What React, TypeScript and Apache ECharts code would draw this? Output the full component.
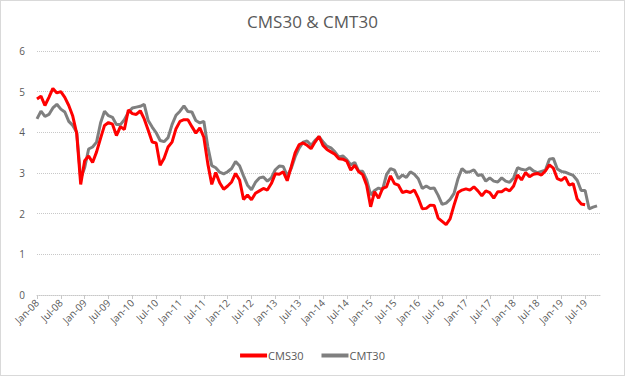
import React, { useEffect, useRef } from "react";
import * as echarts from "echarts";

const monthNames = ["Jan", "Feb", "Mar", "Apr", "May", "Jun", "Jul", "Aug", "Sep", "Oct", "Nov", "Dec"];
const years = ["08", "09", "10", "11", "12", "13", "14", "15", "16", "17", "18", "19"];
const categories: string[] = [];
years.forEach((y) => monthNames.forEach((m) => categories.push(m + "-" + y)));
categories.splice(143); // Jan-08 .. Nov-19

const cmt30 = [
  4.33, 4.52, 4.39, 4.44, 4.60, 4.69, 4.57, 4.50, 4.27, 4.17, 4.00, 2.87,
  3.13, 3.59, 3.64, 3.76, 4.23, 4.52, 4.41, 4.37, 4.19, 4.19, 4.31, 4.49,
  4.60, 4.62, 4.64, 4.69, 4.29, 4.13, 3.99, 3.80, 3.77, 3.87, 4.19, 4.42,
  4.52, 4.65, 4.51, 4.50, 4.29, 4.23, 4.27, 3.65, 3.18, 3.13, 3.02, 2.98,
  3.03, 3.11, 3.28, 3.18, 2.93, 2.70, 2.59, 2.77, 2.88, 2.90, 2.80, 2.88,
  3.08, 3.17, 3.16, 2.93, 3.11, 3.40, 3.61, 3.76, 3.79, 3.68, 3.80, 3.89,
  3.77, 3.66, 3.62, 3.52, 3.39, 3.42, 3.33, 3.20, 3.26, 3.04, 3.04, 2.83,
  2.46, 2.57, 2.63, 2.59, 2.96, 3.11, 3.07, 2.86, 2.95, 2.89, 3.03, 2.97,
  2.86, 2.62, 2.68, 2.62, 2.63, 2.45, 2.23, 2.26, 2.35, 2.50, 2.86, 3.11,
  3.02, 3.03, 3.08, 2.94, 2.96, 2.80, 2.88, 2.80, 2.78, 2.88, 2.80, 2.77,
  2.88, 3.13, 3.09, 3.07, 3.13, 3.05, 3.01, 3.04, 3.07, 3.34, 3.36, 3.10,
  3.04, 3.02, 2.98, 2.94, 2.82, 2.57, 2.57, 2.12, 2.16, 2.19,
];

const cms30 = [
  4.82, 4.89, 4.66, 4.86, 5.08, 4.97, 5.00, 4.86, 4.66, 4.40, 3.97, 2.72,
  3.30, 3.42, 3.26, 3.52, 3.85, 4.17, 4.24, 4.20, 3.92, 4.14, 4.07, 4.55,
  4.46, 4.44, 4.53, 4.33, 4.05, 3.76, 3.74, 3.19, 3.36, 3.64, 3.76, 4.09,
  4.27, 4.31, 4.31, 4.14, 3.98, 4.11, 3.88, 3.23, 2.72, 3.01, 2.76, 2.60,
  2.68, 2.78, 2.99, 2.83, 2.35, 2.46, 2.34, 2.50, 2.56, 2.62, 2.58, 2.74,
  2.98, 2.97, 3.03, 2.81, 3.15, 3.50, 3.70, 3.74, 3.68, 3.60, 3.76, 3.90,
  3.68, 3.58, 3.52, 3.46, 3.35, 3.34, 3.29, 3.07, 3.19, 3.03, 2.96, 2.70,
  2.17, 2.54, 2.38, 2.62, 2.66, 2.93, 2.74, 2.70, 2.52, 2.55, 2.52, 2.58,
  2.38, 2.12, 2.13, 2.21, 2.20, 1.89, 1.81, 1.73, 1.87, 2.21, 2.52, 2.58,
  2.61, 2.58, 2.66, 2.56, 2.44, 2.56, 2.52, 2.38, 2.54, 2.54, 2.61, 2.56,
  2.68, 2.95, 2.83, 3.01, 2.91, 2.97, 2.99, 2.95, 3.05, 3.20, 3.12, 2.86,
  2.82, 2.90, 2.70, 2.74, 2.36, 2.24, 2.22,
];

const FONT = "'Open Sans', 'Noto Sans', sans-serif";
const TXT = "#595959";

export default function App() {
  const ref = useRef<HTMLDivElement>(null);
  useEffect(() => {
    if (!ref.current) return;
    const chart = echarts.init(ref.current, undefined, { renderer: "svg" });
    chart.setOption({
      animation: false,
      backgroundColor: "#ffffff",
      title: {
        text: "CMS30 & CMT30",
        left: "center",
        top: 7,
        textStyle: { fontFamily: FONT, fontSize: 17, fontWeight: "normal", color: TXT },
      },
      legend: {
        bottom: 9,
        left: "center",
        itemGap: 18,
        itemWidth: 27,
        itemHeight: 4,
        icon: "rect",
        textStyle: { fontFamily: FONT, fontSize: 11, color: TXT, padding: [0, 0, 0, -4] },
        data: ["CMS30", "CMT30"],
      },
      grid: { left: 36, right: 23, top: 50, bottom: 80, containLabel: false },
      xAxis: {
        type: "category",
        data: categories,
        boundaryGap: false,
        axisLine: { lineStyle: { color: "#c8c8c8", type: "dotted" } },
        axisTick: { show: true, interval: 5, length: 4, lineStyle: { color: "#c8c8c8" } },
        axisLabel: {
          interval: 5,
          rotate: 45,
          fontFamily: FONT,
          fontSize: 10,
          color: TXT,
          margin: 6,
        },
        splitLine: { show: false },
      },
      yAxis: {
        type: "value",
        min: 0,
        max: 6,
        interval: 1,
        axisLine: { show: false },
        axisTick: { show: false },
        axisLabel: { fontFamily: FONT, fontSize: 10, color: TXT, margin: 12 },
        splitLine: { lineStyle: { color: "#c8c8c8", type: "dotted", width: 1 } },
      },
      series: [
        {
          name: "CMS30",
          type: "line",
          data: cms30,
          symbol: "none",
          lineStyle: { color: "#ff0000", width: 3 },
          itemStyle: { color: "#ff0000" },
          z: 3,
        },
        {
          name: "CMT30",
          type: "line",
          data: cmt30,
          symbol: "none",
          lineStyle: { color: "#7f7f7f", width: 3 },
          itemStyle: { color: "#7f7f7f" },
          z: 2,
        },
      ],
    });
    return () => chart.dispose();
  }, []);
  return (
    <div
      style={{
        position: "fixed",
        left: 0,
        top: 0,
        width: 625,
        height: 376,
        boxSizing: "border-box",
        border: "1px solid #d9d9d9",
        background: "#fff",
      }}
    >
      <div ref={ref} style={{ width: 623, height: 374 }} />
    </div>
  );
}
